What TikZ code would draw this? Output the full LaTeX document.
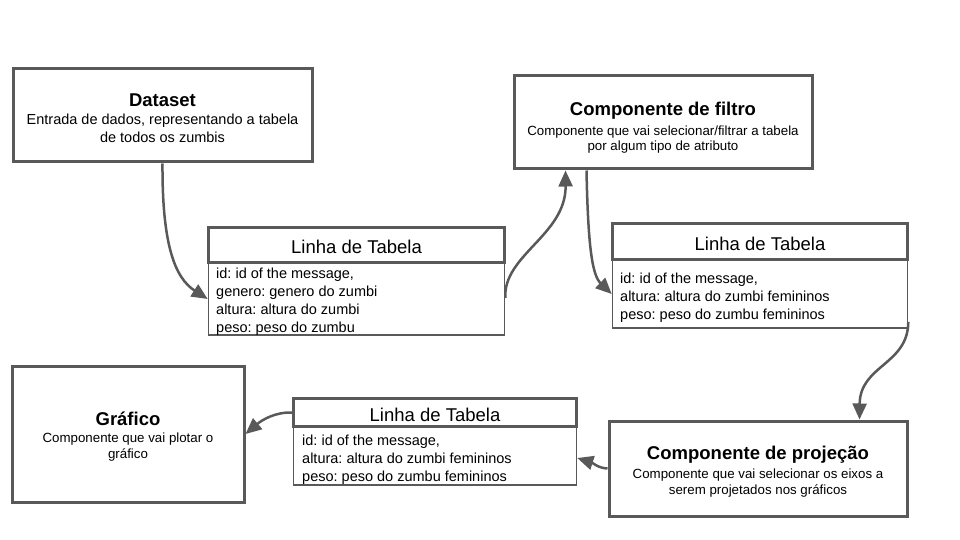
\documentclass[tikz,border=0pt]{standalone}
\usepackage{fontspec}
\setmainfont{Liberation Sans}
\frenchspacing
\usetikzlibrary{arrows.meta,calc}
\definecolor{bordergray}{HTML}{595959}
\tikzset{
  box/.style={draw=bordergray, line width=3pt, fill=white, inner sep=0pt},
  btext/.style={align=center, inner sep=0pt},
  thead/.style={draw=bordergray, line width=3pt, fill=white, font=\fontsize{18.5}{21}\selectfont, inner sep=0pt, text height=17.5pt, text depth=0pt},
  tbody/.style={draw=bordergray, line width=1.6pt, fill=white, inner sep=0pt},
  ttext/.style={anchor=north west, align=left, inner sep=0pt, font=\fontsize{14.5}{18}\selectfont},
  conn/.style={draw=bordergray, line width=2.5pt, -{Triangle[length=16pt,width=14pt]}},
}
\newcommand{\ttl}[1]{{\fontsize{18.5}{21}\selectfont\bfseries #1}}
\begin{document}
\begin{tikzpicture}[x=1pt,y=-1pt]
\useasboundingbox (0,0) rectangle (960,540);
% Dataset
\node[box, minimum width=299pt, minimum height=93pt] (dataset) at (162.5,115.5) {};
\node[btext, font=\fontsize{14.5}{17.5}\selectfont, yshift=-2.5pt] (datasettext) at (dataset.center)
  {\ttl{Dataset}\\[1pt] Entrada de dados, representando a tabela\\ de todos os zumbis};
% Filtro
\node[box, minimum width=298pt, minimum height=93pt] (filter) at (663,122.5) {};
\node[btext, font=\fontsize{13.3}{15}\selectfont, yshift=-5pt] (filtertext) at (filter.center)
  {\ttl{Componente de filtro}\\[5pt] Componente que vai selecionar/filtrar a tabela\\ por algum tipo de atributo};
% Grafico
\node[box, minimum width=232pt, minimum height=136pt] (grafico) at (128,434) {};
\node[btext, font=\fontsize{13.3}{15.3}\selectfont, yshift=-2.5pt] (graficotext) at (grafico.center)
  {\ttl{Gráfico}\\[2pt] Componente que vai plotar o\\ gráfico};
% Projecao
\node[box, minimum width=298pt, minimum height=95pt] (proj) at (758,468.5) {};
\node[btext, font=\fontsize{13.3}{15.3}\selectfont, yshift=-3pt] (projtext) at (proj.center)
  {\ttl{Componente de projeção}\\[4pt] Componente que vai selecionar os eixos a\\ serem projetados nos gráficos};
% Tabela 1
\node[tbody, minimum width=296pt, minimum height=72pt] (t1body) at (356.5,299) {};
\node[ttext] (t1text) at (216,267.5)
  {id: id of the message,\\ genero: genero do zumbi\\ altura: altura do zumbi\\ peso: peso do zumbu};
\node[thead, minimum width=296pt, minimum height=35pt] (t1head) at (356.5,245) {Linha de Tabela};
% Tabela 2
\node[tbody, minimum width=295pt, minimum height=68pt] (t2body) at (760,294) {};
\node[ttext] (t2text) at (620,272.5)
  {id: id of the message,\\ altura: altura do zumbi femininos\\ peso: peso do zumbu femininos};
\node[thead, minimum width=295pt, minimum height=36pt] (t2head) at (760,241.5) {Linha de Tabela};
% Tabela 3
\node[tbody, minimum width=283pt, minimum height=58pt] (t3body) at (435,456) {};
\node[ttext] (t3text) at (302,434.5)
  {id: id of the message,\\ altura: altura do zumbi femininos\\ peso: peso do zumbu femininos};
\node[thead, minimum width=283pt, minimum height=28pt] (t3head) at (435,412.5) {Linha de Tabela};
% Connectors
\draw[conn] (dataset.south) .. controls (162,245) and (175,278) .. (t1body.west);
\draw[conn] ($(t1body.east)+(0,-1)$) .. controls (503,255) and (566,235) .. ($(filter.south west)+(53,0)$);
\draw[conn] ($(filter.south west)+(74,0)$) .. controls (588,245) and (592,275) .. (t2body.west);
\draw[conn] ($(t2body.south east)+(0,-7)$) .. controls (908,365) and (860,365) .. ($(proj.north west)+(252,0)$);
\draw[conn] (proj.west) .. controls (598,468) and (593,463) .. ($(t3body.east)+(0,2)$);
\draw[conn] (t3head.west) .. controls (275,412) and (262,420) .. (grafico.east);
\end{tikzpicture}
\end{document}
